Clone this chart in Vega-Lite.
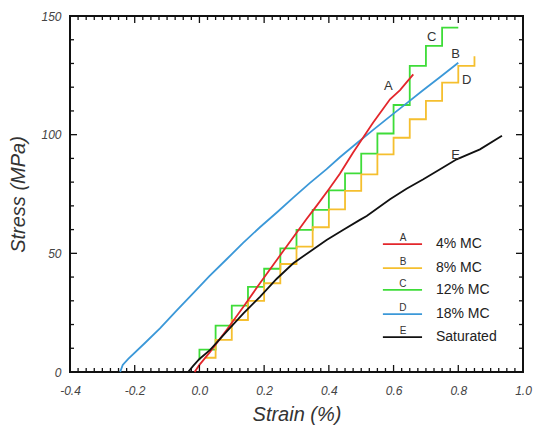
{
  "$schema": "https://vega.github.io/schema/vega-lite/v6.json",
  "width": 453,
  "height": 356,
  "autosize": "none",
  "padding": {"left": 70, "top": 16, "right": 11, "bottom": 53},
  "background": "white",
  "config": {"view": {"stroke": "#111", "strokeWidth": 2}, "font": "Liberation Sans"},
  "datasets": {
    "steps": [
      {"s": "C", "o": 0, "x": 0.0, "y": 5.0},
      {"s": "C", "o": 1, "x": 0.0, "y": 9.4},
      {"s": "C", "o": 2, "x": 0.05, "y": 19.5},
      {"s": "C", "o": 3, "x": 0.10, "y": 28.0},
      {"s": "C", "o": 4, "x": 0.15, "y": 35.9},
      {"s": "C", "o": 5, "x": 0.20, "y": 43.5},
      {"s": "C", "o": 6, "x": 0.25, "y": 52.1},
      {"s": "C", "o": 7, "x": 0.30, "y": 59.9},
      {"s": "C", "o": 8, "x": 0.35, "y": 68.3},
      {"s": "C", "o": 9, "x": 0.40, "y": 76.5},
      {"s": "C", "o": 10, "x": 0.45, "y": 83.7},
      {"s": "C", "o": 11, "x": 0.50, "y": 92.0},
      {"s": "C", "o": 12, "x": 0.55, "y": 100.5},
      {"s": "C", "o": 13, "x": 0.60, "y": 112.5},
      {"s": "C", "o": 14, "x": 0.65, "y": 129.0},
      {"s": "C", "o": 15, "x": 0.70, "y": 137.4},
      {"s": "C", "o": 16, "x": 0.75, "y": 145.1},
      {"s": "C", "o": 17, "x": 0.80, "y": 145.1},
      {"s": "B", "o": 0, "x": 0.02, "y": 6.0},
      {"s": "B", "o": 1, "x": 0.05, "y": 13.5},
      {"s": "B", "o": 2, "x": 0.10, "y": 21.9},
      {"s": "B", "o": 3, "x": 0.15, "y": 30.0},
      {"s": "B", "o": 4, "x": 0.20, "y": 37.4},
      {"s": "B", "o": 5, "x": 0.25, "y": 45.5},
      {"s": "B", "o": 6, "x": 0.30, "y": 52.8},
      {"s": "B", "o": 7, "x": 0.35, "y": 61.0},
      {"s": "B", "o": 8, "x": 0.40, "y": 68.5},
      {"s": "B", "o": 9, "x": 0.45, "y": 76.3},
      {"s": "B", "o": 10, "x": 0.50, "y": 83.3},
      {"s": "B", "o": 11, "x": 0.55, "y": 91.7},
      {"s": "B", "o": 12, "x": 0.60, "y": 98.7},
      {"s": "B", "o": 13, "x": 0.65, "y": 106.5},
      {"s": "B", "o": 14, "x": 0.70, "y": 114.2},
      {"s": "B", "o": 15, "x": 0.75, "y": 121.9},
      {"s": "B", "o": 16, "x": 0.80, "y": 129.0},
      {"s": "B", "o": 17, "x": 0.85, "y": 133.0}
    ],
    "curves": [
      {"s": "D", "x": -0.245, "y": 0},
      {"s": "D", "x": -0.237, "y": 3},
      {"s": "D", "x": -0.22, "y": 5.5},
      {"s": "D", "x": -0.17, "y": 12},
      {"s": "D", "x": -0.122, "y": 18.4},
      {"s": "D", "x": -0.07, "y": 26},
      {"s": "D", "x": -0.019, "y": 33.2},
      {"s": "D", "x": 0.03, "y": 40.3},
      {"s": "D", "x": 0.084, "y": 47.5},
      {"s": "D", "x": 0.135, "y": 54.4},
      {"s": "D", "x": 0.187, "y": 61},
      {"s": "D", "x": 0.24, "y": 67.3},
      {"s": "D", "x": 0.29, "y": 73.5},
      {"s": "D", "x": 0.34, "y": 79.5},
      {"s": "D", "x": 0.393, "y": 85.5},
      {"s": "D", "x": 0.434, "y": 90.5},
      {"s": "D", "x": 0.487, "y": 96.5},
      {"s": "D", "x": 0.537, "y": 102},
      {"s": "D", "x": 0.59, "y": 107.8},
      {"s": "D", "x": 0.64, "y": 113.2},
      {"s": "D", "x": 0.69, "y": 118.6},
      {"s": "D", "x": 0.743, "y": 124.2},
      {"s": "D", "x": 0.80, "y": 130.3},
      {"s": "A", "x": -0.015, "y": 0},
      {"s": "A", "x": 0.0, "y": 3},
      {"s": "A", "x": 0.033, "y": 8.5},
      {"s": "A", "x": 0.084, "y": 17.7},
      {"s": "A", "x": 0.136, "y": 27.5},
      {"s": "A", "x": 0.187, "y": 37.4},
      {"s": "A", "x": 0.239, "y": 47.2},
      {"s": "A", "x": 0.29, "y": 56.8},
      {"s": "A", "x": 0.331, "y": 64.5},
      {"s": "A", "x": 0.362, "y": 70.0},
      {"s": "A", "x": 0.40, "y": 77.0},
      {"s": "A", "x": 0.434, "y": 83.5},
      {"s": "A", "x": 0.475, "y": 92.5},
      {"s": "A", "x": 0.537, "y": 105.1},
      {"s": "A", "x": 0.589, "y": 114.9},
      {"s": "A", "x": 0.62, "y": 118.8},
      {"s": "A", "x": 0.64, "y": 122},
      {"s": "A", "x": 0.661, "y": 125.4},
      {"s": "E", "x": -0.035, "y": 0},
      {"s": "E", "x": -0.02, "y": 2.5},
      {"s": "E", "x": 0.0, "y": 5.5},
      {"s": "E", "x": 0.033, "y": 9.3},
      {"s": "E", "x": 0.084, "y": 17.0},
      {"s": "E", "x": 0.136, "y": 24.7},
      {"s": "E", "x": 0.187, "y": 31.7},
      {"s": "E", "x": 0.239, "y": 39.3},
      {"s": "E", "x": 0.29, "y": 45.8},
      {"s": "E", "x": 0.342, "y": 50.8},
      {"s": "E", "x": 0.393, "y": 55.6},
      {"s": "E", "x": 0.445, "y": 59.9},
      {"s": "E", "x": 0.496, "y": 64.1},
      {"s": "E", "x": 0.517, "y": 65.7},
      {"s": "E", "x": 0.589, "y": 72.8},
      {"s": "E", "x": 0.64, "y": 77.2},
      {"s": "E", "x": 0.692, "y": 81.2},
      {"s": "E", "x": 0.745, "y": 85.5},
      {"s": "E", "x": 0.795, "y": 89.6},
      {"s": "E", "x": 0.867, "y": 93.8},
      {"s": "E", "x": 0.935, "y": 99.5}
    ],
    "tags": [
      {"t": "A", "x": 0.584, "y": 120.5},
      {"t": "C", "x": 0.718, "y": 141.3},
      {"t": "B", "x": 0.792, "y": 133.8},
      {"t": "D", "x": 0.826, "y": 123.0},
      {"t": "E", "x": 0.792, "y": 91.5}
    ],
    "legend": [
      {"s": "A", "lab": "4% MC", "y": 53.9},
      {"s": "B", "lab": "8% MC", "y": 43.8},
      {"s": "C", "lab": "12% MC", "y": 34.6},
      {"s": "D", "lab": "18% MC", "y": 24.4},
      {"s": "E", "lab": "Saturated", "y": 14.7}
    ],
    "xt": [
      {"v": -0.4}, {"v": -0.375}, {"v": -0.35}, {"v": -0.325}, {"v": -0.3}, {"v": -0.275}, {"v": -0.25}, {"v": -0.225},
      {"v": -0.2}, {"v": -0.175}, {"v": -0.15}, {"v": -0.125}, {"v": -0.1}, {"v": -0.075}, {"v": -0.05}, {"v": -0.025},
      {"v": 0}, {"v": 0.025}, {"v": 0.05}, {"v": 0.075}, {"v": 0.1}, {"v": 0.125}, {"v": 0.15}, {"v": 0.175},
      {"v": 0.2}, {"v": 0.225}, {"v": 0.25}, {"v": 0.275}, {"v": 0.3}, {"v": 0.325}, {"v": 0.35}, {"v": 0.375},
      {"v": 0.4}, {"v": 0.425}, {"v": 0.45}, {"v": 0.475}, {"v": 0.5}, {"v": 0.525}, {"v": 0.55}, {"v": 0.575},
      {"v": 0.6}, {"v": 0.625}, {"v": 0.65}, {"v": 0.675}, {"v": 0.7}, {"v": 0.725}, {"v": 0.75}, {"v": 0.775},
      {"v": 0.8}, {"v": 0.825}, {"v": 0.85}, {"v": 0.875}, {"v": 0.9}, {"v": 0.925}, {"v": 0.95}, {"v": 0.975}, {"v": 1.0}
    ],
    "yt": [
      {"v": 0}, {"v": 10}, {"v": 20}, {"v": 30}, {"v": 40}, {"v": 50}, {"v": 60}, {"v": 70},
      {"v": 80}, {"v": 90}, {"v": 100}, {"v": 110}, {"v": 120}, {"v": 130}, {"v": 140}, {"v": 150}
    ]
  },
  "resolve": {"axis": {"x": "independent", "y": "independent"}},
  "layer": [
    {
      "data": {"name": "steps"},
      "mark": {"type": "line", "interpolate": "step-after", "strokeWidth": 1.8},
      "encoding": {
        "x": {
          "field": "x", "type": "quantitative",
          "scale": {"domain": [-0.4, 1.0], "nice": false, "zero": false},
          "axis": {
            "orient": "bottom",
            "values": [-0.4, -0.2, 0, 0.2, 0.4, 0.6, 0.8, 1.0],
            "domain": false, "grid": false, "ticks": false,
            "labelExpr": "replace(format(datum.value,'.1f'),'\u2212','-')",
            "labelFont": "Liberation Sans", "labelFontSize": 12, "labelFontStyle": "italic", "labelColor": "#444",
            "labelPadding": 13, "labelOverlap": false, "labelFlush": false,
            "title": "Strain (%)", "titleFont": "Liberation Sans", "titleFontSize": 20, "titleFontStyle": "italic", "titleFontWeight": "normal", "titleColor": "#333",
            "titleX": 226.5, "titleY": 48, "titleBaseline": "alphabetic", "titleAlign": "center"
          }
        },
        "y": {
          "field": "y", "type": "quantitative",
          "scale": {"domain": [0, 150], "nice": false},
          "axis": {
            "orient": "left",
            "values": [0, 50, 100, 150],
            "domain": false, "grid": false, "ticks": false,
            "labelFont": "Liberation Sans", "labelFontSize": 12, "labelFontStyle": "italic", "labelColor": "#444",
            "labelPadding": 9, "labelOverlap": false, "labelFlush": false,
            "title": "Stress (MPa)", "titleFont": "Liberation Sans", "titleFontSize": 20, "titleFontStyle": "italic", "titleFontWeight": "normal", "titleColor": "#333",
            "titleX": -46, "titleY": 178, "titleBaseline": "alphabetic", "titleAlign": "center", "titleAngle": 270
          }
        },
        "order": {"field": "o", "type": "quantitative"},
        "color": {
          "field": "s", "type": "nominal", "legend": null,
          "scale": {"domain": ["A", "B", "C", "D", "E"], "range": ["#e3262b", "#f5bf2e", "#3edc38", "#3b98d8", "#111111"]}
        }
      }
    },
    {
      "data": {"name": "curves"},
      "mark": {"type": "line", "strokeWidth": 1.8},
      "encoding": {
        "x": {"field": "x", "type": "quantitative", "axis": null},
        "y": {"field": "y", "type": "quantitative", "axis": null},
        "color": {"field": "s", "type": "nominal", "legend": null}
      }
    },
    {
      "data": {"name": "xt"},
      "transform": [{"filter": "abs(datum.v*5-round(datum.v*5))<0.001"}],
      "mark": {"type": "rule", "color": "#111", "strokeWidth": 1.3, "y2Offset": -7},
      "encoding": {
        "x": {"field": "v", "type": "quantitative", "axis": null},
        "y": {"datum": 0, "type": "quantitative", "axis": null},
        "y2": {"datum": 0}
      }
    },
    {
      "data": {"name": "xt"},
      "transform": [{"filter": "abs(datum.v*5-round(datum.v*5))>=0.001"}],
      "mark": {"type": "rule", "color": "#111", "strokeWidth": 1.3, "y2Offset": -4},
      "encoding": {
        "x": {"field": "v", "type": "quantitative", "axis": null},
        "y": {"datum": 0, "type": "quantitative", "axis": null},
        "y2": {"datum": 0}
      }
    },
    {
      "data": {"name": "xt"},
      "transform": [{"filter": "abs(datum.v*5-round(datum.v*5))<0.001"}],
      "mark": {"type": "rule", "color": "#111", "strokeWidth": 1.3, "y2Offset": 7},
      "encoding": {
        "x": {"field": "v", "type": "quantitative", "axis": null},
        "y": {"datum": 150, "type": "quantitative", "axis": null},
        "y2": {"datum": 150}
      }
    },
    {
      "data": {"name": "xt"},
      "transform": [{"filter": "abs(datum.v*5-round(datum.v*5))>=0.001"}],
      "mark": {"type": "rule", "color": "#111", "strokeWidth": 1.3, "y2Offset": 4},
      "encoding": {
        "x": {"field": "v", "type": "quantitative", "axis": null},
        "y": {"datum": 150, "type": "quantitative", "axis": null},
        "y2": {"datum": 150}
      }
    },
    {
      "data": {"name": "yt"},
      "transform": [{"filter": "datum.v % 50 == 0"}],
      "mark": {"type": "rule", "color": "#111", "strokeWidth": 1.3, "x2Offset": 7},
      "encoding": {
        "y": {"field": "v", "type": "quantitative", "axis": null},
        "x": {"datum": -0.4, "type": "quantitative", "axis": null},
        "x2": {"datum": -0.4}
      }
    },
    {
      "data": {"name": "yt"},
      "transform": [{"filter": "datum.v % 50 != 0"}],
      "mark": {"type": "rule", "color": "#111", "strokeWidth": 1.3, "x2Offset": 4},
      "encoding": {
        "y": {"field": "v", "type": "quantitative", "axis": null},
        "x": {"datum": -0.4, "type": "quantitative", "axis": null},
        "x2": {"datum": -0.4}
      }
    },
    {
      "data": {"name": "yt"},
      "transform": [{"filter": "datum.v % 50 == 0"}],
      "mark": {"type": "rule", "color": "#111", "strokeWidth": 1.3, "x2Offset": -7},
      "encoding": {
        "y": {"field": "v", "type": "quantitative", "axis": null},
        "x": {"datum": 1.0, "type": "quantitative", "axis": null},
        "x2": {"datum": 1.0}
      }
    },
    {
      "data": {"name": "yt"},
      "transform": [{"filter": "datum.v % 50 != 0"}],
      "mark": {"type": "rule", "color": "#111", "strokeWidth": 1.3, "x2Offset": -4},
      "encoding": {
        "y": {"field": "v", "type": "quantitative", "axis": null},
        "x": {"datum": 1.0, "type": "quantitative", "axis": null},
        "x2": {"datum": 1.0}
      }
    },
    {
      "data": {"name": "tags"},
      "mark": {"type": "text", "fontSize": 13, "color": "#333", "align": "center", "baseline": "middle"},
      "encoding": {
        "x": {"field": "x", "type": "quantitative", "axis": null},
        "y": {"field": "y", "type": "quantitative", "axis": null},
        "text": {"field": "t"}
      }
    },
    {
      "data": {"name": "legend"},
      "mark": {"type": "rule", "strokeWidth": 1.8},
      "encoding": {
        "x": {"datum": 0.567, "type": "quantitative", "axis": null},
        "x2": {"datum": 0.688},
        "y": {"field": "y", "type": "quantitative", "axis": null},
        "color": {"field": "s", "type": "nominal", "legend": null}
      }
    },
    {
      "data": {"name": "legend"},
      "mark": {"type": "text", "fontSize": 10, "color": "#333", "align": "center", "baseline": "alphabetic", "dy": -3},
      "encoding": {
        "x": {"datum": 0.629, "type": "quantitative", "axis": null},
        "y": {"field": "y", "type": "quantitative", "axis": null},
        "text": {"field": "s"}
      }
    },
    {
      "data": {"name": "legend"},
      "mark": {"type": "text", "fontSize": 14, "color": "#222", "align": "left", "baseline": "middle"},
      "encoding": {
        "x": {"datum": 0.731, "type": "quantitative", "axis": null},
        "y": {"field": "y", "type": "quantitative", "axis": null},
        "text": {"field": "lab"}
      }
    }
  ]
}
